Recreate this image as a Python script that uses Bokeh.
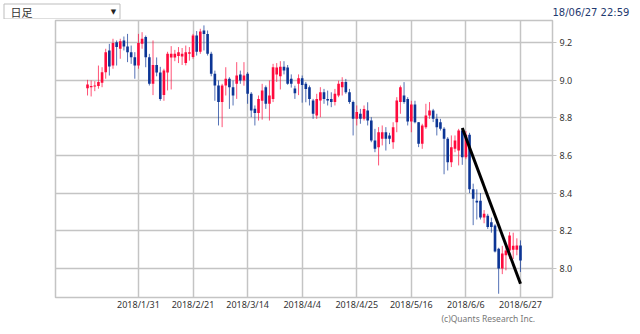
import numpy as np
import pandas as pd
from bokeh.plotting import figure
from bokeh.layouts import column
from bokeh.models import (ColumnDataSource, FixedTicker, Range1d, Title,
                          PrintfTickFormatter)
from bokeh.core.properties import value
from bokeh.embed import file_html
from bokeh.resources import INLINE

# ---------------- data ----------------
first_day = "2018-01-11"
last_day = "2018-06-27"
origin_day = "2018-01-01"

opens = [8.957, 8.962, 8.966, 8.968, 8.985, 9.042, 9.157, 9.077, 9.201, 9.166,
         9.210, 9.178, 9.148, 9.121, 9.077, 9.192, 9.228, 9.121, 8.980, 9.080,
         9.040, 8.920, 9.040, 9.120, 9.120, 9.127, 9.125, 9.090, 9.140, 9.122,
         9.236, 9.150, 9.263, 9.245, 9.139, 9.033, 8.971, 8.883, 8.971, 9.007,
         8.962, 8.980, 9.030, 8.998, 9.033, 8.927, 8.848, 8.825, 8.890, 8.962,
         8.874, 8.900, 9.030, 9.020, 9.070, 9.066, 9.007, 8.955, 8.980, 9.010,
         8.980, 8.962, 8.891, 8.812, 8.891, 8.935, 8.900, 8.900, 8.883, 8.918,
         8.962, 8.989, 8.935, 8.883, 8.794, 8.821, 8.794, 8.838, 8.785, 8.679,
         8.644, 8.688, 8.723, 8.706, 8.670, 8.776, 8.883, 8.918, 8.900, 8.780,
         8.870, 8.776, 8.662, 8.750, 8.812, 8.838, 8.794, 8.776, 8.741, 8.688,
         8.564, 8.635, 8.626, 8.732, 8.590, 8.710, 8.420, 8.360, 8.360, 8.270,
         8.280, 8.245, 8.228, 8.105, 8.000, 8.070, 8.095, 8.100, 8.100, 8.122]
highs = [9.001, 8.998, 8.994, 9.077, 9.068, 9.166, 9.192, 9.219, 9.210, 9.219,
         9.231, 9.245, 9.183, 9.148, 9.245, 9.254, 9.236, 9.139, 9.210, 9.120,
         9.070, 9.060, 9.150, 9.180, 9.160, 9.175, 9.170, 9.183, 9.175, 9.245,
         9.260, 9.272, 9.290, 9.263, 9.150, 9.050, 8.998, 8.980, 9.068, 9.015,
         8.998, 9.095, 9.050, 9.095, 9.042, 8.936, 8.865, 8.918, 8.980, 8.971,
         8.998, 9.086, 9.090, 9.100, 9.100, 9.080, 9.030, 8.970, 9.030, 9.024,
         8.990, 8.971, 8.900, 8.927, 8.962, 8.953, 8.944, 8.935, 8.953, 8.997,
         9.015, 9.006, 8.953, 8.891, 8.865, 8.847, 8.865, 8.882, 8.803, 8.741,
         8.750, 8.759, 8.750, 8.720, 8.776, 8.909, 8.971, 8.989, 8.909, 8.890,
         8.890, 8.777, 8.768, 8.874, 8.883, 8.847, 8.821, 8.794, 8.750, 8.697,
         8.706, 8.706, 8.741, 8.746, 8.730, 8.720, 8.450, 8.420, 8.400, 8.310,
         8.290, 8.270, 8.235, 8.110, 8.120, 8.120, 8.193, 8.190, 8.160, 8.149]
lows = [8.918, 8.913, 8.941, 8.954, 8.962, 9.007, 9.024, 9.060, 9.077, 9.113,
        9.157, 9.095, 9.086, 9.007, 9.060, 9.166, 9.068, 8.971, 8.920, 9.020,
        8.890, 8.890, 8.945, 8.950, 9.100, 9.090, 9.080, 9.078, 9.103, 9.113,
        9.130, 9.139, 9.157, 9.130, 9.020, 8.890, 8.759, 8.750, 8.918, 8.847,
        8.865, 8.900, 8.980, 8.970, 8.874, 8.803, 8.759, 8.785, 8.790, 8.847,
        8.785, 8.883, 8.990, 8.950, 9.030, 8.975, 8.960, 8.900, 8.920, 8.880,
        8.882, 8.865, 8.794, 8.794, 8.803, 8.874, 8.865, 8.856, 8.865, 8.909,
        8.918, 8.927, 8.874, 8.706, 8.759, 8.768, 8.785, 8.759, 8.670, 8.617,
        8.547, 8.653, 8.626, 8.660, 8.635, 8.723, 8.821, 8.874, 8.759, 8.723,
        8.770, 8.644, 8.635, 8.741, 8.794, 8.777, 8.706, 8.732, 8.500, 8.520,
        8.538, 8.617, 8.547, 8.550, 8.580, 8.400, 8.230, 8.260, 8.260, 8.240,
        8.210, 8.190, 8.085, 7.866, 7.970, 7.990, 8.050, 8.050, 8.070, 7.981]
closes = [8.977, 8.969, 8.971, 8.989, 9.042, 9.148, 9.072, 9.196, 9.175, 9.206,
          9.178, 9.148, 9.121, 9.077, 9.196, 9.219, 9.121, 8.980, 9.080, 9.040,
          8.900, 9.050, 9.139, 9.140, 9.140, 9.148, 9.140, 9.148, 9.148, 9.236,
          9.150, 9.258, 9.245, 9.139, 9.033, 8.971, 8.883, 8.971, 9.007, 8.962,
          8.918, 9.024, 8.998, 9.024, 8.927, 8.839, 8.825, 8.900, 8.945, 8.874,
          8.918, 9.068, 9.066, 9.070, 9.050, 8.980, 8.980, 8.930, 9.010, 8.974,
          8.953, 8.900, 8.821, 8.900, 8.935, 8.900, 8.891, 8.883, 8.927, 8.980,
          8.989, 8.935, 8.883, 8.794, 8.830, 8.794, 8.847, 8.785, 8.679, 8.635,
          8.723, 8.723, 8.688, 8.688, 8.750, 8.891, 8.962, 8.883, 8.780, 8.870,
          8.776, 8.662, 8.759, 8.812, 8.838, 8.794, 8.750, 8.741, 8.688, 8.564,
          8.644, 8.679, 8.732, 8.590, 8.710, 8.420, 8.370, 8.350, 8.270, 8.290,
          8.220, 8.220, 8.090, 8.000, 8.080, 8.096, 8.175, 8.120, 8.122, 8.043]

tick_dates = ["2018-01-31", "2018-02-21", "2018-03-14", "2018-04-04",
              "2018-04-25", "2018-05-16", "2018-06-06", "2018-06-27"]
tick_labels = ["2018/1/31", "2018/2/21", "2018/3/14", "2018/4/4",
               "2018/4/25", "2018/5/16", "2018/6/6", "2018/6/27"]
y_ticks = [8.0, 8.2, 8.4, 8.6, 8.8, 9.0, 9.2]

trend_dates = ["2018-06-05", "2018-06-27"]
trend_values = [8.746, 7.919]

period_label = "日足"
dropdown_mark = "▼"
timestamp_label = "18/06/27 22:59"
credit_label = "(c)Quants Research Inc."

FONT = "Noto Sans"
JFONT = "Noto Sans CJK JP"
GRID = "#c4c4c4"

# ---------------- helpers ----------------
def day_index(d):
    arr = np.array(d, dtype="datetime64[D]")
    return np.busday_count(np.datetime64(origin_day), arr)

def no_frame_align(fig):
    try:
        fig.frame_align = False
    except Exception:
        pass

days = pd.bdate_range(first_day, last_day).values.astype("datetime64[D]")
xs = day_index(days).astype(float)

o = np.array(opens); h = np.array(highs); l = np.array(lows); c = np.array(closes)
up = c >= o
top = np.maximum(o, c)
bot = np.minimum(o, c)
small = (top - bot) < 0.005
mid = (top + bot) / 2
top = np.where(small, mid + 0.0025, top)
bot = np.where(small, mid - 0.0025, bot)
RED = "#ff0a3c"
BLUE = "#0c3595"
colors = [RED if u else BLUE for u in up]

src = ColumnDataSource(dict(x=xs, h=h, l=l, top=top, bot=bot, color=colors))

# ---------------- header strip (own small svg figure) ----------------
hdr = figure(width=640, height=19, x_range=Range1d(0, 640), y_range=Range1d(19, 0),
             x_axis_location=None, y_axis_location=None, toolbar_location=None,
             output_backend="svg", min_border=0, min_border_left=0,
             min_border_right=0, min_border_top=0, min_border_bottom=0)
no_frame_align(hdr)
hdr.outline_line_color = None
hdr.grid.visible = False
hdr.background_fill_color = "white"
hdr.border_fill_color = "white"
hdr.quad(left=[3.5], right=[119.5], top=[3.5], bottom=[18.5],
         fill_color="white", line_color="#bdbdbd", line_width=1)
hdr.text(x=[10], y=[11.5], text=[period_label], text_font=value(JFONT),
         text_font_size=value("11px"), text_color="#333333",
         text_align="left", text_baseline="middle")
hdr.text(x=[113], y=[11.5], text=[dropdown_mark], text_font=value("DejaVu Sans"),
         text_font_size=value("7px"), text_color="#222222",
         text_align="center", text_baseline="middle")
hdr.text(x=[552], y=[11.5], text=[timestamp_label], text_font=value("DejaVu Sans"),
         text_font_size=value("10px"), text_color="#1f3a70",
         text_align="left", text_baseline="middle")

# ---------------- main chart ----------------
p = figure(width=640, height=315,
           x_range=Range1d(-0.8, 135.8), y_range=Range1d(7.846, 9.316),
           y_axis_location="right", output_backend="svg", toolbar_location=None,
           min_border_left=55, min_border_right=88, min_border_top=1,
           min_border_bottom=37)
no_frame_align(p)
p.background_fill_color = "white"
p.border_fill_color = "white"
p.outline_line_color = GRID
p.outline_line_width = 1.5

xt = [int(v) for v in day_index(tick_dates)]
p.xaxis.ticker = FixedTicker(ticks=xt)
p.xaxis.major_label_overrides = {t: lab for t, lab in zip(xt, tick_labels)}
p.xaxis.axis_line_color = None
p.xaxis.major_tick_line_color = None
p.xaxis.minor_tick_line_color = None
p.xaxis.major_tick_in = 0
p.xaxis.major_tick_out = 0
p.xaxis.major_label_standoff = 0
p.xaxis.major_label_text_font = FONT
p.xaxis.major_label_text_font_size = "9px"
p.xaxis.major_label_text_color = "#333333"

p.yaxis.ticker = FixedTicker(ticks=y_ticks)
p.yaxis.formatter = PrintfTickFormatter(format="%.1f")
p.yaxis.axis_line_color = None
p.yaxis.major_tick_in = 0
p.yaxis.major_tick_out = 4
p.yaxis.major_tick_line_color = GRID
p.yaxis.minor_tick_line_color = None
p.yaxis.major_label_standoff = 3
p.yaxis.major_label_text_font = FONT
p.yaxis.major_label_text_font_size = "9px"
p.yaxis.major_label_text_color = "#333333"

p.xgrid.ticker = FixedTicker(ticks=xt)
p.ygrid.ticker = FixedTicker(ticks=y_ticks)
for g in (p.xgrid, p.ygrid):
    g.grid_line_color = GRID
    g.grid_line_width = 1.5

# candles
p.segment(x0="x", y0="l", x1="x", y1="h", line_color="color", line_width=1,
          line_alpha=0.7, source=src)
p.vbar(x="x", top="top", bottom="bot", width=0.72, fill_color="color",
       line_color=None, source=src)

# trend line
p.line(x=[float(v) for v in day_index(trend_dates)], y=trend_values,
       line_color="black", line_width=3)

# credit under the axis
p.add_layout(Title(text=credit_label, align="left", offset=386, standoff=-5,
                   vertical_align="bottom", text_font=FONT,
                   text_font_size="8.5px", text_font_style="normal",
                   text_color="#777777"), "below")

layout = column(hdr, p, spacing=0)
open("out.html", "w").write(file_html(layout, INLINE))
